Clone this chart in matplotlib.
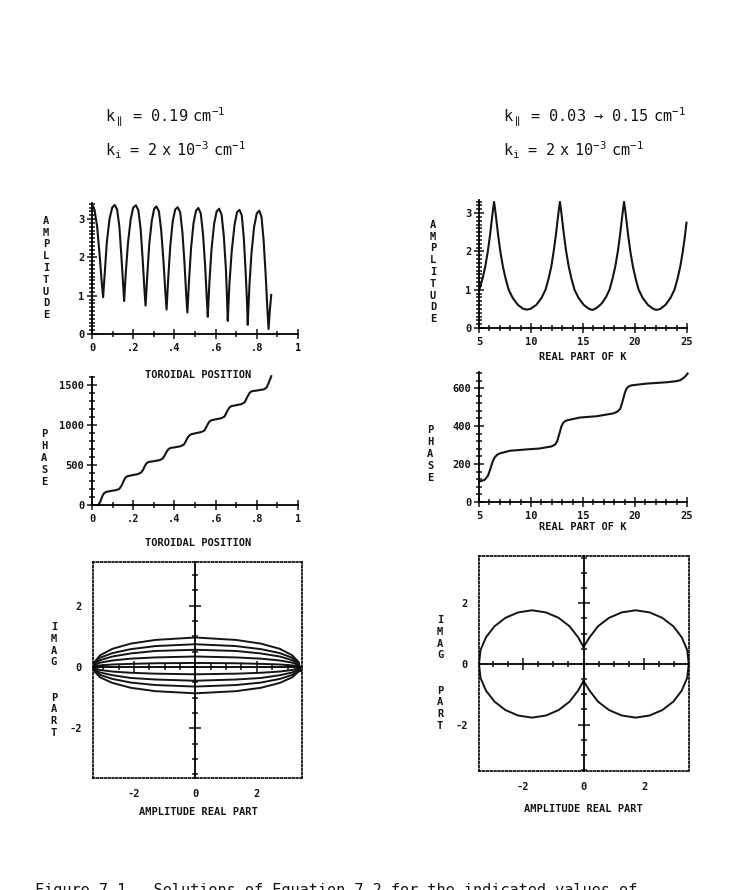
import matplotlib
matplotlib.use('Agg')
import matplotlib.pyplot as plt
from matplotlib.ticker import MultipleLocator, FixedLocator, FuncFormatter

# ---- left column: fixed k_parallel, along the toroidal position ----
tor_pos = [0.000, 0.012, 0.025, 0.038, 0.048, 0.054,
           0.062, 0.072, 0.085, 0.098, 0.110,
           0.122, 0.133, 0.143, 0.151, 0.156,
           0.164, 0.175, 0.188, 0.200, 0.213,
           0.225, 0.236, 0.246, 0.254, 0.260,
           0.268, 0.278, 0.290, 0.302, 0.313,
           0.325, 0.336, 0.347, 0.356, 0.362,
           0.370, 0.380, 0.392, 0.404, 0.416,
           0.428, 0.439, 0.449, 0.457, 0.463,
           0.471, 0.481, 0.493, 0.505, 0.516,
           0.528, 0.539, 0.549, 0.557, 0.562,
           0.570, 0.580, 0.593, 0.605, 0.617,
           0.629, 0.640, 0.650, 0.655, 0.659,
           0.667, 0.678, 0.692, 0.704, 0.716,
           0.727, 0.737, 0.746, 0.752, 0.756,
           0.764, 0.774, 0.787, 0.800, 0.812,
           0.823, 0.833, 0.843, 0.850, 0.857,
           0.863, 0.870]
tor_amp = [3.38, 3.25, 2.80, 2.00, 1.30, 0.96,
           1.60, 2.40, 3.00, 3.30, 3.37,
           3.25, 2.80, 2.00, 1.30, 0.86,
           1.60, 2.40, 3.00, 3.30, 3.36,
           3.23, 2.75, 1.95, 1.20, 0.74,
           1.50, 2.35, 2.95, 3.27, 3.33,
           3.20, 2.70, 1.90, 1.10, 0.64,
           1.45, 2.30, 2.95, 3.25, 3.31,
           3.18, 2.65, 1.85, 1.05, 0.56,
           1.40, 2.25, 2.90, 3.22, 3.29,
           3.15, 2.60, 1.80, 0.95, 0.45,
           1.35, 2.20, 2.88, 3.20, 3.27,
           3.12, 2.55, 1.70, 1.00, 0.34,
           1.30, 2.15, 2.85, 3.18, 3.24,
           3.10, 2.50, 1.60, 0.90, 0.24,
           1.25, 2.10, 2.80, 3.15, 3.22,
           3.05, 2.45, 1.55, 0.80, 0.13,
           0.60, 1.02]

tor_ph_pos = [0.030, 0.040, 0.050, 0.058, 0.068,
              0.090, 0.115, 0.132, 0.143, 0.152,
              0.160, 0.170, 0.195, 0.222, 0.238,
              0.248, 0.257, 0.265, 0.275, 0.300,
              0.327, 0.343, 0.353, 0.362, 0.370,
              0.380, 0.405, 0.430, 0.446, 0.455,
              0.464, 0.472, 0.482, 0.505, 0.530,
              0.545, 0.554, 0.563, 0.571, 0.580,
              0.605, 0.628, 0.643, 0.651, 0.660,
              0.668, 0.678, 0.705, 0.727, 0.741,
              0.749, 0.758, 0.766, 0.776, 0.805,
              0.835, 0.848, 0.858, 0.866, 0.870]
tor_phase = [0, 40, 110, 145, 163,
             175, 185, 200, 240, 290,
             335, 358, 373, 385, 405,
             440, 490, 522, 538, 548,
             560, 580, 620, 665, 695,
             712, 722, 735, 755, 795,
             840, 868, 885, 898, 912,
             930, 970, 1015, 1045, 1060,
             1073, 1085, 1105, 1145, 1190,
             1222, 1237, 1250, 1262, 1285,
             1325, 1370, 1405, 1422, 1433,
             1446, 1470, 1530, 1580, 1610]

# complex plane: loops, alternately upper (right->left) and lower (left->right)
loop_x = [3.42, 3.36, 3.15, 2.75, 2.13, 1.32, 0.0, -1.30, -2.10, -2.70, -3.10, -3.28, -3.33]
loop_up1 = [-0.12, 0.16, 0.38, 0.59, 0.76, 0.88, 0.96, 0.88, 0.76, 0.59, 0.38, 0.16, 0.10]
loop_lo1 = [0.10, -0.15, -0.34, -0.52, -0.68, -0.79, -0.86, -0.79, -0.68, -0.52, -0.34, -0.15, -0.12]
loop_up2 = [-0.12, 0.13, 0.30, 0.45, 0.58, 0.68, 0.74, 0.68, 0.58, 0.45, 0.30, 0.13, 0.10]
loop_lo2 = [0.10, -0.11, -0.26, -0.39, -0.51, -0.59, -0.64, -0.59, -0.51, -0.39, -0.26, -0.11, -0.12]
loop_up3 = [-0.12, 0.10, 0.22, 0.34, 0.44, 0.52, 0.56, 0.52, 0.44, 0.34, 0.22, 0.10, 0.10]
loop_lo3 = [0.10, -0.08, -0.18, -0.27, -0.36, -0.41, -0.45, -0.41, -0.36, -0.27, -0.18, -0.08, -0.12]
loop_up4 = [-0.12, 0.06, 0.14, 0.21, 0.27, 0.31, 0.34, 0.31, 0.27, 0.21, 0.14, 0.06, 0.10]
loop_lo4 = [0.10, -0.04, -0.10, -0.15, -0.19, -0.22, -0.24, -0.22, -0.19, -0.15, -0.10, -0.04, -0.12]
loop_up5 = [-0.12, 0.02, 0.05, 0.08, 0.10, 0.12, 0.13, 0.12, 0.10, 0.08, 0.05, 0.02, 0.10]

# ---- right column: k_parallel swept, against real part of K ----
K_amp_x = [5.0, 5.35, 5.6, 5.85, 6.05, 6.2, 6.33, 6.45, 6.57, 6.7, 6.85, 7.05, 7.3, 7.55, 7.85, 8.25, 8.75, 9.25, 9.6,
           9.95, 10.5, 11.0, 11.4, 11.7, 11.95, 12.18, 12.38, 12.53, 12.66, 12.78, 12.9, 13.03, 13.18, 13.38, 13.63,
           13.88, 14.18, 14.58, 15.08, 15.58, 15.9,
           16.3, 16.8, 17.2, 17.55, 17.85, 18.1, 18.35, 18.55, 18.7, 18.83, 18.95, 19.07, 19.2, 19.35, 19.55, 19.8,
           20.05, 20.35, 20.75, 21.25, 21.75, 22.05,
           22.45, 22.95, 23.4, 23.8, 24.1, 24.35, 24.6, 24.8, 24.95]
K_amp = [0.97, 1.3, 1.6, 2.0, 2.4, 2.75, 3.05, 3.29, 3.05, 2.75, 2.4, 2.0, 1.6, 1.3, 1.0, 0.78, 0.6, 0.5, 0.48,
         0.5, 0.6, 0.78, 1.0, 1.3, 1.6, 2.0, 2.4, 2.75, 3.05, 3.29, 3.05, 2.75, 2.4, 2.0, 1.6,
         1.3, 1.0, 0.78, 0.6, 0.5, 0.47,
         0.52, 0.64, 0.8, 1.0, 1.3, 1.6, 2.0, 2.4, 2.75, 3.05, 3.29, 3.05, 2.75, 2.4, 2.0, 1.6,
         1.3, 1.0, 0.78, 0.6, 0.5, 0.47,
         0.5, 0.61, 0.78, 1.0, 1.3, 1.6, 2.0, 2.4, 2.75]

K_ph_x = [5.06, 5.55, 5.87, 6.05, 6.19, 6.35, 6.51, 6.75, 7.0, 7.96, 9.57, 10.85,
          11.98, 12.3, 12.5, 12.65, 12.78, 12.92, 13.1, 13.35, 13.59, 14.71, 16.32,
          17.93, 18.3, 18.57, 18.75, 18.9, 19.05, 19.21, 19.45, 19.7, 21.14, 23.07,
          24.0, 24.36, 24.7, 24.9, 25.06]
K_phase = [108, 117, 139, 168, 192, 218, 235, 249, 256, 270, 277, 282,
           293, 302, 318, 345, 370, 398, 418, 428, 432, 445, 452,
           467, 476, 490, 520, 550, 580, 600, 611, 615, 624, 631,
           637, 642, 655, 666, 677]

left_circ_x = [0.0, -0.18, -0.46, -0.82, -1.24, -1.70, -2.16, -2.58, -2.94, -3.22, -3.40, -3.45,
               -3.40, -3.22, -2.94, -2.58, -2.16, -1.70, -1.24, -0.82, -0.46, -0.18, 0.0]
left_circ_y = [0.56, 0.88, 1.24, 1.52, 1.70, 1.77, 1.70, 1.52, 1.24, 0.88, 0.46, 0.0,
               -0.46, -0.88, -1.24, -1.52, -1.70, -1.77, -1.70, -1.52, -1.24, -0.88, -0.56]
right_circ_x = [0.0, 0.20, 0.475, 0.84, 1.26, 1.72, 2.18, 2.60, 2.965, 3.24, 3.42, 3.47,
                3.42, 3.24, 2.965, 2.60, 2.18, 1.72, 1.26, 0.84, 0.475, 0.20, 0.0]
right_circ_y = [0.56, 0.88, 1.24, 1.52, 1.70, 1.77, 1.70, 1.52, 1.24, 0.88, 0.46, 0.0,
                -0.46, -0.88, -1.24, -1.52, -1.70, -1.77, -1.70, -1.52, -1.24, -0.88, -0.56]

W, H = 741, 890
plt.rcParams.update({'font.family': 'DejaVu Sans Mono', 'font.size': 7.5,
                     'font.weight': 'bold', 'axes.linewidth': 1.3,
                     'axes.unicode_minus': False,
                     'mathtext.fontset': 'custom',
                     'mathtext.tt': 'DejaVu Sans Mono:normal',
                     'mathtext.rm': 'DejaVu Sans Mono:normal'})
fig = plt.figure(figsize=(W / 100, H / 100), dpi=100)
INK = '#141414'
LW = 1.5


def box(x0, x1, ytop, ybot):
    return [x0 / W, 1 - ybot / H, (x1 - x0) / W, (ybot - ytop) / H]


def lax(ax):
    for s in ['top', 'right']:
        ax.spines[s].set_visible(False)
    ax.tick_params(which='both', direction='inout', width=1.1, colors=INK)
    ax.tick_params(which='major', length=7)
    ax.tick_params(which='minor', length=4)
    ax.tick_params(axis='y', pad=2)
    ax.tick_params(axis='x', pad=3)


def frac_fmt(v, pos):
    if abs(v) < 1e-9:
        return '0'
    if abs(v - 1) < 1e-9:
        return '1'
    return ('%.1f' % v).lstrip('0')


def vlabel(x, y, letters):
    fig.text(x / W, 1 - y / H, '\n'.join(letters), ha='center', va='center',
             linespacing=1.22, color=INK)


def hlabel(x, y, s):
    fig.text(x / W, 1 - y / H, s, ha='center', va='center', color=INK)


def cplx(rect, xl, yl):
    ax = fig.add_axes(rect)
    ax.set_xlim(xl)
    ax.set_ylim(yl)
    for s in ax.spines.values():
        s.set_linestyle((0, (1, 1.3)))
        s.set_linewidth(1.2)
    ax.set_xticks([-2, 0, 2])
    ax.set_yticks([-2, 0, 2])
    ax.tick_params(length=0, pad=8, colors=INK)
    cr = fig.add_axes(rect)
    cr.set_xlim(xl)
    cr.set_ylim(yl)
    cr.patch.set_visible(False)
    cr.spines['left'].set_position('zero')
    cr.spines['bottom'].set_position('zero')
    cr.spines['top'].set_visible(False)
    cr.spines['right'].set_visible(False)
    for a in (cr.xaxis, cr.yaxis):
        a.set_major_locator(FixedLocator([-2, 2]))
        a.set_minor_locator(MultipleLocator(0.5))
    cr.tick_params(which='both', direction='inout', width=1.1, labelleft=False,
                   labelbottom=False, colors=INK)
    cr.tick_params(which='major', length=8)
    cr.tick_params(which='minor', length=5)
    return ax


# left amplitude
ax = fig.add_axes(box(92, 298, 203, 334))
lax(ax)
ax.plot(tor_pos, tor_amp, color=INK, lw=LW, clip_on=False)
ax.set_xlim(0, 1)
ax.set_ylim(0, 3.42)
ax.xaxis.set_major_locator(MultipleLocator(0.2))
ax.xaxis.set_minor_locator(MultipleLocator(0.1))
ax.xaxis.set_major_formatter(FuncFormatter(frac_fmt))
ax.yaxis.set_major_locator(MultipleLocator(1))
ax.yaxis.set_minor_locator(MultipleLocator(0.1))
vlabel(46, 268, 'AMPLITUDE')
hlabel(198, 375, 'TOROIDAL POSITION')

# left phase
ax = fig.add_axes(box(92, 298, 377, 505))
lax(ax)
ax.plot(tor_ph_pos, tor_phase, color=INK, lw=LW, clip_on=False)
ax.set_xlim(0, 1)
ax.set_ylim(0, 1600)
ax.xaxis.set_major_locator(MultipleLocator(0.2))
ax.xaxis.set_minor_locator(MultipleLocator(0.1))
ax.xaxis.set_major_formatter(FuncFormatter(frac_fmt))
ax.yaxis.set_major_locator(MultipleLocator(500))
ax.yaxis.set_minor_locator(MultipleLocator(100))
vlabel(44, 458, 'PHASE')
hlabel(198, 543, 'TOROIDAL POSITION')

# left complex plane
ax = cplx(box(93, 302, 562, 778), (-3.33, 3.47), (-3.62, 3.42))
loops = [loop_up1, loop_lo1, loop_up2, loop_lo2, loop_up3, loop_lo3, loop_up4, loop_lo4, loop_up5]
for i, ly in enumerate(loops):
    lx = loop_x if i % 2 == 0 else loop_x[::-1]
    ax.plot(lx, ly, color=INK, lw=1.4)
vlabel(54, 680, ['I', 'M', 'A', 'G', '', '', 'P', 'A', 'R', 'T'])
hlabel(198, 812, 'AMPLITUDE REAL PART')

# right amplitude
ax = fig.add_axes(box(479, 687, 200, 328))
lax(ax)
ax.plot(K_amp_x, K_amp, color=INK, lw=LW, clip_on=False)
ax.set_xlim(5, 25)
ax.set_ylim(0, 3.34)
ax.xaxis.set_major_locator(MultipleLocator(5))
ax.xaxis.set_minor_locator(MultipleLocator(1))
ax.yaxis.set_major_locator(MultipleLocator(1))
ax.yaxis.set_minor_locator(MultipleLocator(0.1))
vlabel(433, 272, 'AMPLITUDE')
hlabel(583, 357, 'REAL PART OF K')

# right phase
ax = fig.add_axes(box(479, 687, 372, 502))
lax(ax)
ax.plot(K_ph_x, K_phase, color=INK, lw=LW, clip_on=False)
ax.set_xlim(5, 25)
ax.set_ylim(0, 685)
ax.xaxis.set_major_locator(MultipleLocator(5))
ax.xaxis.set_minor_locator(MultipleLocator(1))
ax.yaxis.set_major_locator(MultipleLocator(200))
ax.yaxis.set_minor_locator(MultipleLocator(40))
vlabel(430, 454, 'PHASE')
hlabel(583, 527, 'REAL PART OF K')

# right complex plane
ax = cplx(box(479, 689, 556, 771), (-3.45, 3.48), (-3.53, 3.56))
ax.plot(left_circ_x, left_circ_y, color=INK, lw=1.4)
ax.plot(right_circ_x, right_circ_y, color=INK, lw=1.4)
vlabel(440, 673, ['I', 'M', 'A', 'G', '', '', 'P', 'A', 'R', 'T'])
hlabel(583, 809, 'AMPLITUDE REAL PART')

# parameter headers
HDR = dict(size=11, weight='normal', va='baseline', color=INK)
fig.text(105 / W, 1 - 122 / H, r'$\mathtt{k_{\parallel}\ =\ 0.19\ cm^{-1}}$', **HDR)
fig.text(105 / W, 1 - 156 / H, r'$\mathtt{k_{i}\ =\ 2\ x\ 10^{-3}\ cm^{-1}}$', **HDR)
fig.text(503 / W, 1 - 122 / H, r'$\mathtt{k_{\parallel}\ =\ 0.03\ \rightarrow\ 0.15\ cm^{-1}}$', **HDR)
fig.text(503 / W, 1 - 156 / H, r'$\mathtt{k_{i}\ =\ 2\ x\ 10^{-3}\ cm^{-1}}$', **HDR)

# caption, cut off by the page edge as in the scan
fig.text(35 / W, 1 - 883 / H, 'Figure 7.1.  Solutions of Equation 7.2 for the indicated values of',
         size=11, weight='normal', va='top', color=INK)

fig.savefig('out.png', dpi=100, facecolor='white')
